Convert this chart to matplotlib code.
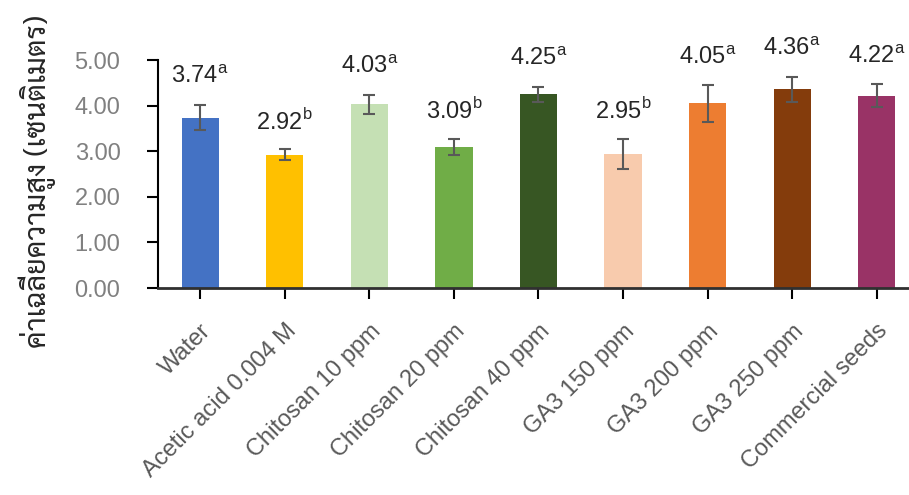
import matplotlib
matplotlib.use("Agg")
import matplotlib.pyplot as plt

plt.rcParams['font.family'] = ['Liberation Sans', 'Sarabun', 'Athiti', 'DejaVu Sans']

# mean plant height per treatment, with standard error and group letter
treatments = ["Water", "Acetic acid 0.004 M", "Chitosan 10 ppm", "Chitosan 20 ppm",
              "Chitosan 40 ppm", "GA3 150 ppm", "GA3 200 ppm", "GA3 250 ppm",
              "Commercial seeds"]
means = [3.74, 2.92, 4.03, 3.09, 4.25, 2.95, 4.05, 4.36, 4.22]
errors = [0.28, 0.12, 0.21, 0.17, 0.16, 0.33, 0.40, 0.27, 0.25]
letters = ["a", "b", "a", "b", "a", "b", "a", "a", "a"]
colors = ["#4472C4", "#FFC000", "#C5E0B4", "#70AD47", "#375623",
          "#F8CBAD", "#ED7D31", "#843C0C", "#993366"]

fig = plt.figure(figsize=(9.09, 4.95), dpi=100)
ax = fig.add_axes([0.1738, 0.418, 0.826, 0.4606])

x = range(len(treatments))
ax.bar(x, means, width=0.44, color=colors, zorder=2)
ax.errorbar(x, means, yerr=errors, fmt="none", ecolor="#595959",
            elinewidth=1.5, capsize=4, capthick=1.5, zorder=3)

# value + letter above each error bar
for i, (m, e, l) in enumerate(zip(means, errors, letters)):
    ax.annotate(f"{m:.2f}$^\\mathregular{{{l}}}$", xy=(i, m + e),
                xytext=(0, 28), textcoords="offset pixels",
                ha="center", va="center", fontsize=17, color="#262626")

ax.set_xlim(-0.5, 8.38)
ax.set_ylim(0, 5)
ax.set_yticks([0, 1, 2, 3, 4, 5])
ax.set_yticklabels([f"{v:.2f}" for v in [0, 1, 2, 3, 4, 5]])
ax.set_xticks(list(x))
ax.set_xticklabels(treatments, rotation=45, ha="right", rotation_mode="anchor")

for side in ["top", "right"]:
    ax.spines[side].set_visible(False)
ax.spines["left"].set_linewidth(1.5)
ax.spines["bottom"].set_linewidth(2)
ax.spines["bottom"].set_color("#303030")
ax.tick_params(axis="y", length=8, width=1.5, labelsize=17, labelcolor="#808080", pad=19)
ax.tick_params(axis="x", length=8, width=1.5, labelsize=17, labelcolor="#595959", pad=15)

ax.set_ylabel("ค่าเฉลี่ยความสูง (เซนติเมตร)", fontsize=21, color="#262626",
              family=['Sarabun', 'Athiti', 'DejaVu Sans'])
ax.yaxis.set_label_coords(-0.136, 0.469)

plt.savefig("out.png")
